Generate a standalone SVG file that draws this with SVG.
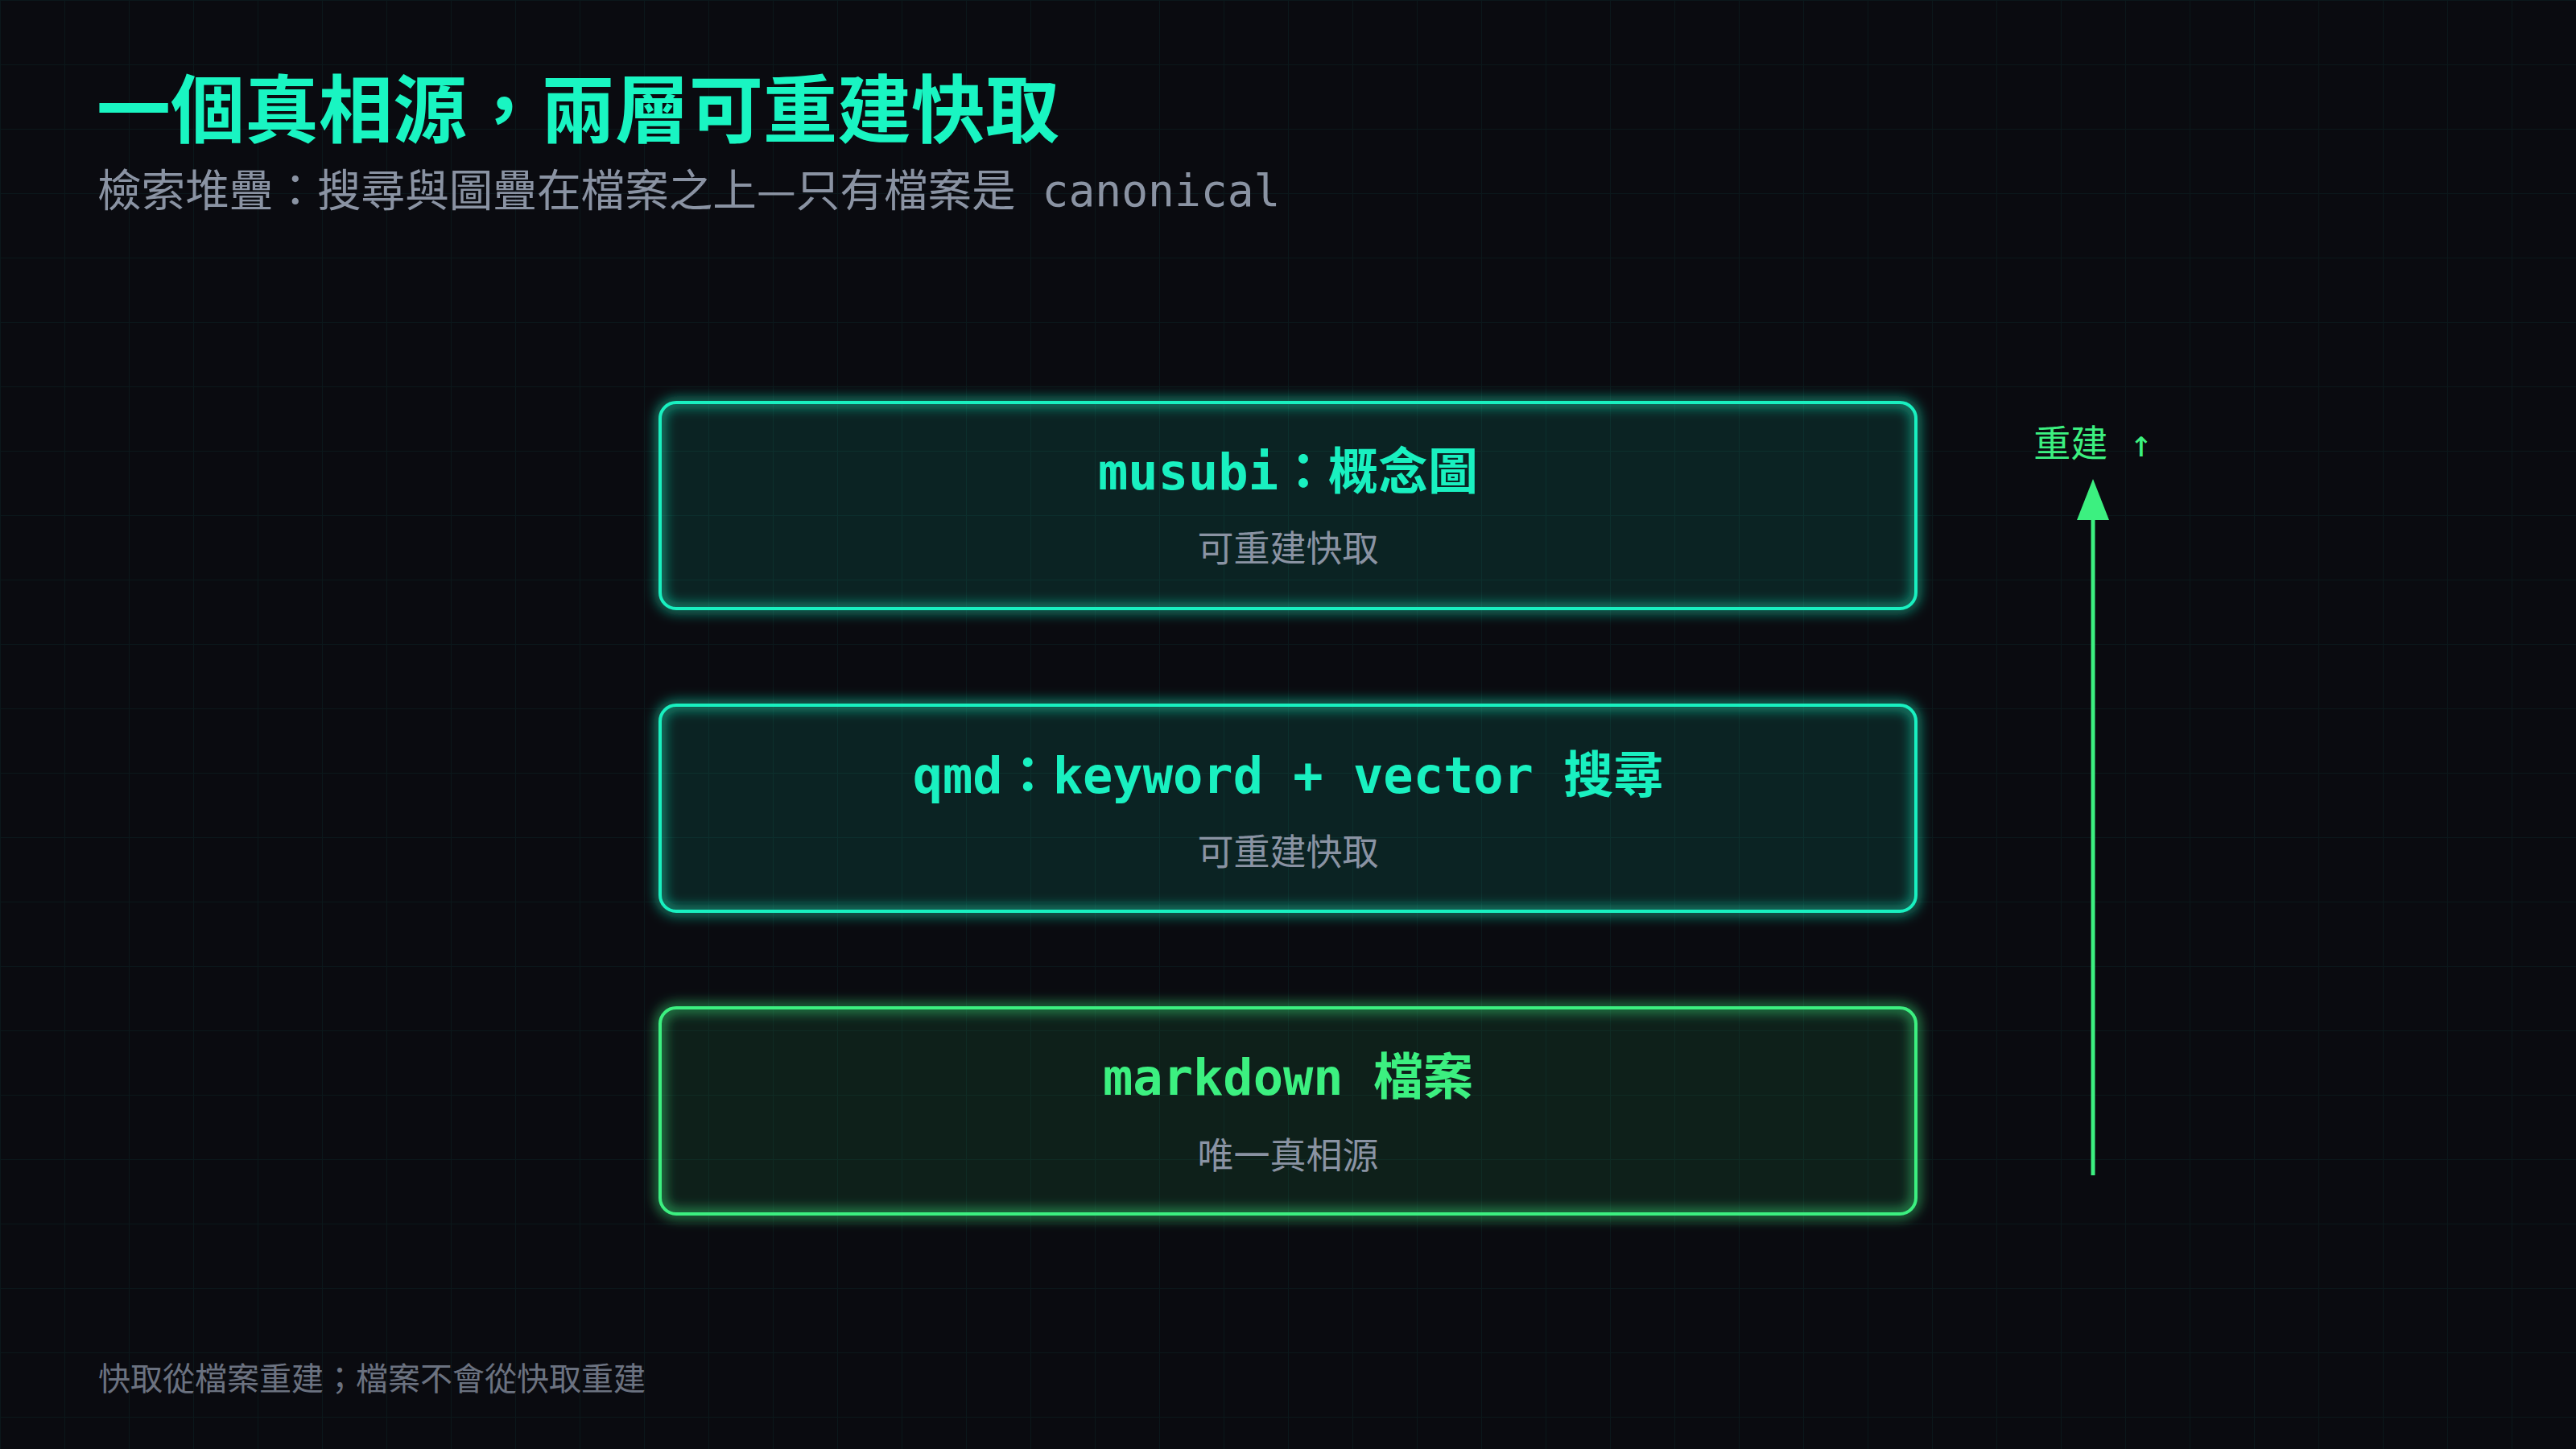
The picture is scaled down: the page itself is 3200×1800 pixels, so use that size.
<svg xmlns="http://www.w3.org/2000/svg" width="3200" height="1800" viewBox="0 0 3200 1800">
  <defs>
    <pattern id="grid" width="80" height="80" patternUnits="userSpaceOnUse">
      <path d="M80 0 L0 0 L0 80" fill="none" stroke="#19f0c0" stroke-opacity="0.06" stroke-width="2"/>
    </pattern>
    <filter id="glow" x="-5%" y="-20%" width="110%" height="140%">
      <feGaussianBlur stdDeviation="8"/>
    </filter>
    <style>
      .title { font-family: "Noto Sans CJK TC", "Noto Sans CJK SC", sans-serif; font-weight: 700; font-size: 92px; fill: #19f5c2; }
      .sub { font-family: "Noto Sans CJK TC", "Noto Sans CJK SC", sans-serif; font-size: 54.6px; fill: #8a93a3; }
      .mono { font-family: "DejaVu Sans Mono", "Noto Sans CJK TC", monospace; }
      .lbl { font-family: "DejaVu Sans Mono", "Noto Sans CJK TC", monospace; font-weight: 700; font-size: 62px; text-anchor: middle; }
      .cap { font-family: "Noto Sans CJK TC", "Noto Sans CJK SC", sans-serif; font-size: 45px; fill: #8a93a3; text-anchor: middle; }
      .foot { font-family: "Noto Sans CJK TC", "Noto Sans CJK SC", sans-serif; font-size: 40px; fill: #6b7280; }
      .teal-box { fill: #19f0c0; fill-opacity: 0.11; }
      .green-box { fill: #3cf080; fill-opacity: 0.09; }
      .teal-stroke { fill: none; stroke: #19f0c0; stroke-width: 4; }
      .green-stroke { fill: none; stroke: #3cf080; stroke-width: 4; }
      .glow { filter: url(#glow); stroke-opacity: 0.8; stroke-width: 8; }
    </style>
  </defs>

  <rect x="0" y="0" width="3200" height="1800" fill="#0a0b10"/>
  <rect x="0" y="0" width="3200" height="1800" fill="url(#grid)"/>

  <g id="header">
    <text class="title" x="120" y="170">一個真相源，兩層可重建快取</text>
    <text class="sub" x="121" y="256">檢索堆疊：搜尋與圖疊在檔案之上—只有檔案是<tspan class="mono"> canonical</tspan></text>
  </g>

  <g id="node-musubi">
    <rect class="teal-box" x="820" y="500" width="1560" height="256" rx="20"/>
    <rect class="teal-stroke glow" x="820" y="500" width="1560" height="256" rx="20"/>
    <rect class="teal-stroke" x="820" y="500" width="1560" height="256" rx="20"/>
    <text class="lbl" x="1600" y="608" fill="#19f0c0">musubi：概念圖</text>
    <text class="cap" x="1600" y="698">可重建快取</text>
  </g>

  <g id="node-qmd">
    <rect class="teal-box" x="820" y="876" width="1560" height="256" rx="20"/>
    <rect class="teal-stroke glow" x="820" y="876" width="1560" height="256" rx="20"/>
    <rect class="teal-stroke" x="820" y="876" width="1560" height="256" rx="20"/>
    <text class="lbl" x="1600" y="985" fill="#19f0c0">qmd：keyword + vector 搜尋</text>
    <text class="cap" x="1600" y="1075">可重建快取</text>
  </g>

  <g id="node-markdown">
    <rect class="green-box" x="820" y="1252" width="1560" height="256" rx="20"/>
    <rect class="green-stroke glow" x="820" y="1252" width="1560" height="256" rx="20"/>
    <rect class="green-stroke" x="820" y="1252" width="1560" height="256" rx="20"/>
    <text class="lbl" x="1600" y="1360" fill="#3cf080">markdown 檔案</text>
    <text class="cap" x="1600" y="1452">唯一真相源</text>
  </g>

  <g id="connectors">
    <line x1="2600" y1="1460" x2="2600" y2="640" stroke="#3cf080" stroke-width="5"/>
    <polygon points="2600,595 2580,646 2620,646" fill="#3cf080"/>
    <text class="mono" x="2600" y="567" font-size="46" fill="#3cf080" text-anchor="middle">重建 ↑</text>
  </g>

  <g id="footer">
    <text class="foot" x="122" y="1727">快取從檔案重建；檔案不會從快取重建</text>
  </g>
</svg>
